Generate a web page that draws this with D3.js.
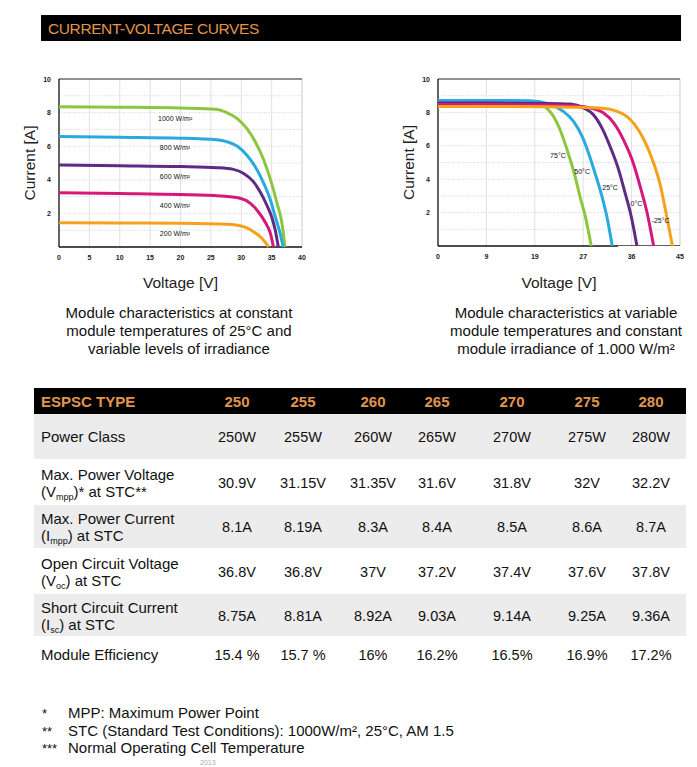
<!DOCTYPE html>
<html><head><meta charset="utf-8">
<script src="https://cdn.jsdelivr.net/npm/d3@7"></script>
<style>
body{margin:0;background:#fff;}
svg{display:block;font-family:"Liberation Sans",Arial,sans-serif;}
</style></head>
<body>
<svg id="c" width="697" height="767"></svg>
<script>
// ---------- DATA ----------
const irrLabels = ["1000 W/m²","800 W/m²","600 W/m²","400 W/m²","200 W/m²"];
const irrColors = ["#8cc63f","#29a9e0","#5e2b84","#d6187a","#f5a11c"];
const irr1000 = [[0,8.35],[10,8.32],[20,8.27],[26,8.19],[27.6,8.0],[29.3,7.66],[30.9,7.06],[32.3,6.27],[33.7,5.18],[35,3.79],[35.9,2.6],[36.7,1.41],[37.2,0]];
const irr800  = [[0,6.57],[10,6.53],[20,6.48],[26,6.38],[27.6,6.27],[29.3,6.01],[30.9,5.48],[32.3,4.78],[33.7,3.79],[34.8,2.8],[35.6,1.8],[36.4,0.81],[36.9,0]];
const irr600  = [[0,4.88],[10,4.84],[20,4.79],[26,4.72],[28.7,4.62],[30.4,4.38],[32,3.89],[33.1,3.29],[34.2,2.5],[35,1.8],[35.6,1.0],[36.1,0]];
const irr400  = [[0,3.23],[10,3.18],[20,3.12],[26.5,3.04],[29.8,2.9],[31.5,2.6],[32.8,2.1],[33.9,1.5],[34.8,0.81],[35.3,0]];
const irr200  = [[0,1.45],[10,1.43],[20,1.41],[27.6,1.35],[30.4,1.21],[32,0.91],[33.4,0.52],[34.5,0]];
const irrSeries = [irr1000, irr800, irr600, irr400, irr200];

const tempLabels = ["75°C","50°C","25°C","0°C","-25°C"];
const tempColors = ["#8cc63f","#29a9e0","#5e2b84","#d6187a","#f5a11c"];
const t75  = [[0,8.64],[10,8.63],[18.4,8.6],[20.2,8.26],[21.5,7.76],[22.7,6.96],[23.6,6.16],[24.6,5.16],[25.5,4.16],[26.4,2.96],[27.4,1.76],[28.5,0]];
const t50  = [[0,8.72],[10,8.72],[17.1,8.7],[20.8,8.5],[23.3,8.06],[25.2,7.46],[26.8,6.56],[28,5.56],[29.2,4.36],[30.5,2.96],[31.4,1.76],[32.4,0]];
const t25  = [[0,8.56],[10,8.56],[20,8.54],[24.6,8.5],[27.1,8.26],[28.9,7.86],[30.5,7.06],[32,5.96],[33.6,4.56],[34.8,3.16],[35.8,1.96],[37,0]];
const t0   = [[0,8.48],[10,8.47],[20,8.45],[26,8.38],[28.3,8.26],[30.8,7.96],[32.7,7.36],[34.5,6.36],[36.1,5.16],[37.6,3.56],[38.9,1.96],[40.1,0]];
const tm25 = [[0,8.36],[10,8.35],[20,8.34],[30,8.26],[33.3,8.06],[35.8,7.56],[38.3,6.36],[40.1,4.96],[41.4,3.56],[42.3,2.16],[43.6,0]];
const tempSeries = [t75, t50, t25, t0, tm25];

const leftXTicks = [0,5,10,15,20,25,30,35,40];
const rightXTicks = [0,9,18,27,36,45];
const rightXTickLabels = ["0","9","19","27","36","45"];
const yTicks = [2,4,6,8,10];

const tableTypes = ["250","255","260","265","270","275","280"];
const powerClass = ["250W","255W","260W","265W","270W","275W","280W"];
const vmpp = ["30.9V","31.15V","31.35V","31.6V","31.8V","32V","32.2V"];
const impp = ["8.1A","8.19A","8.3A","8.4A","8.5A","8.6A","8.7A"];
const voc = ["36.8V","36.8V","37V","37.2V","37.4V","37.6V","37.8V"];
const isc = ["8.75A","8.81A","8.92A","9.03A","9.14A","9.25A","9.36A"];
const eff = ["15.4 %","15.7 %","16%","16.2%","16.5%","16.9%","17.2%"];

const footMarks = ["*","**","***"];
const footTexts = ["MPP: Maximum Power Point","STC (Standard Test Conditions): 1000W/m², 25°C, AM 1.5","Normal Operating Cell Temperature"];

// ---------- DRAW ----------
const svg = d3.select("#c");
const orange = "#e0954f";

// title bar
svg.append("rect").attr("x",41).attr("y",15).attr("width",640).attr("height",26).attr("fill","#000");
svg.append("text").attr("x",48).attr("y",33.5).attr("fill",orange).attr("font-size",15.5)
  .attr("letter-spacing",-0.4).text("CURRENT-VOLTAGE CURVES");

function chart(opts){
  const {x0,x1,y0,y1,xDomain,series,colors,xTicks,xTickLabels,vGrid,labels,labelPos,labelAnchor,bottomSplit} = opts;
  const x = d3.scaleLinear().domain(xDomain).range([x0,x1]);
  const y = d3.scaleLinear().domain([0,10]).range([y0,y1]);
  const g = svg.append("g");
  g.selectAll("line.h").data(d3.range(1,10)).join("line")
    .attr("x1",x0).attr("x2",x1).attr("y1",d=>y(d)).attr("y2",d=>y(d))
    .attr("stroke","#c8c8c8").attr("stroke-width",0.8).attr("stroke-dasharray","1,1.5");
  g.selectAll("line.v").data(vGrid).join("line")
    .attr("x1",d=>x(d)).attr("x2",d=>x(d)).attr("y1",y0).attr("y2",y1)
    .attr("stroke","#d9d9d9").attr("stroke-width",0.8);
  g.append("line").attr("x1",x1).attr("x2",x1).attr("y1",y0).attr("y2",y1).attr("stroke","#bbb").attr("stroke-width",0.8);
  g.append("line").attr("x1",x0).attr("x2",x1).attr("y1",y1).attr("y2",y1).attr("stroke","#222").attr("stroke-width",1);
  g.append("line").attr("x1",x0).attr("x2",x0).attr("y1",y0).attr("y2",y1).attr("stroke","#111").attr("stroke-width",1.3);
  if(bottomSplit!=null){
    g.append("line").attr("x1",x0).attr("x2",x(bottomSplit)).attr("y1",y0).attr("y2",y0).attr("stroke","#111").attr("stroke-width",1.6);
    g.append("line").attr("x1",x(bottomSplit)).attr("x2",x1).attr("y1",y0-0.5).attr("y2",y0-0.5).attr("stroke","#333").attr("stroke-width",0.8);
  } else {
    g.append("line").attr("x1",x0).attr("x2",x1).attr("y1",y0).attr("y2",y0).attr("stroke","#111").attr("stroke-width",1.6);
  }
  g.selectAll("text.yt").data(yTicks).join("text")
    .attr("x",x0-8).attr("y",d=>y(d)+2.5).attr("text-anchor","end")
    .attr("font-size",7).attr("font-weight","bold").attr("fill","#222").text(d=>d);
  g.selectAll("text.xt").data(xTicks).join("text")
    .attr("x",d=>x(d)).attr("y",y0+13).attr("text-anchor","middle")
    .attr("font-size",7).attr("font-weight","bold").attr("fill","#222").text((d,i)=>xTickLabels[i]);
  const line = d3.line().x(d=>x(d[0])).y(d=>y(d[1])).curve(d3.curveMonotoneX);
  g.selectAll("path.s").data(series).join("path")
    .attr("d",line).attr("fill","none").attr("stroke",(d,i)=>colors[i]).attr("stroke-width",3);
  g.selectAll("text.l").data(labels).join("text")
    .attr("x",(d,i)=>x(labelPos[i][0])).attr("y",(d,i)=>y(labelPos[i][1]))
    .attr("text-anchor",labelAnchor).attr("font-size",7).attr("fill","#111").text(d=>d);
  svg.append("text").attr("transform",`translate(${x0-24},${(y0+y1)/2}) rotate(-90)`)
    .attr("text-anchor","middle").attr("font-size",15.5).attr("fill","#222").text("Current [A]");
  svg.append("text").attr("x",(x0+x1)/2).attr("y",288).attr("text-anchor","middle")
    .attr("font-size",15.5).attr("fill","#222").text("Voltage [V]");
}

chart({x0:59,x1:302,y0:247,y1:79,xDomain:[0,40],series:irrSeries,colors:irrColors,
  xTicks:leftXTicks,xTickLabels:leftXTicks.map(String),vGrid:[5,10,15,20,25,30,35],
  labels:irrLabels,labelPos:[[16.3,7.5],[16.6,5.8],[16.6,4.05],[16.6,2.3],[16.6,0.65]],labelAnchor:"start"});
chart({x0:438,x1:680,y0:246,y1:79,xDomain:[0,45],series:tempSeries,colors:tempColors,
  xTicks:rightXTicks,xTickLabels:rightXTickLabels,vGrid:[9,18,27,36],
  labels:tempLabels,labelPos:[[22.3,5.28],[26.8,4.32],[32,3.36],[36.9,2.4],[41.4,1.38]],labelAnchor:"middle",bottomSplit:33.5});

// captions
const capL = ["Module characteristics at constant","module temperatures of 25°C and","variable levels of irradiance"];
const capR = ["Module characteristics at variable","module temperatures and constant","module irradiance of 1.000 W/m²"];
svg.selectAll("text.cl").data(capL).join("text").attr("x",179).attr("y",(d,i)=>318+i*18)
  .attr("text-anchor","middle").attr("font-size",15).attr("fill","#111").text(d=>d);
svg.selectAll("text.cr").data(capR).join("text").attr("x",566).attr("y",(d,i)=>318+i*18)
  .attr("text-anchor","middle").attr("font-size",15).attr("fill","#111").text(d=>d);

// table
const colX = [237,303,373,437,512,587,651];
const tx0 = 34, tx1 = 686;
svg.append("rect").attr("x",tx0).attr("y",388).attr("width",tx1-tx0).attr("height",26).attr("fill","#000");
svg.append("text").attr("x",41).attr("y",406.5).attr("fill",orange).attr("font-size",15).attr("font-weight","bold")
  .text("ESPSC TYPE");
svg.selectAll("text.th").data(tableTypes).join("text").attr("x",(d,i)=>colX[i]).attr("y",406.5)
  .attr("text-anchor","middle").attr("fill",orange).attr("font-size",15).attr("font-weight","bold").text(d=>d);

const rows = [
  {top:414,h:46,gray:true,label:[["Power Class"]],vals:powerClass},
  {top:460,h:45,gray:false,label:[["Max. Power Voltage"],["(V","mpp",")* at STC**"]],vals:vmpp},
  {top:505,h:44,gray:true,label:[["Max. Power Current"],["(I","mpp",") at STC"]],vals:impp},
  {top:550,h:43,gray:false,label:[["Open Circuit Voltage"],["(V","oc",") at STC"]],vals:voc},
  {top:594,h:43,gray:true,label:[["Short Circuit Current"],["(I","sc",") at STC"]],vals:isc},
  {top:637,h:36,gray:false,label:[["Module Efficiency"]],vals:eff}
];
rows.forEach(r=>{
  if(r.gray) svg.append("rect").attr("x",tx0).attr("y",r.top).attr("width",tx1-tx0).attr("height",r.h-1).attr("fill","#ececec");
  const cy = r.top + r.h/2;
  svg.selectAll(null).data(r.vals).join("text").attr("x",(d,i)=>colX[i]).attr("y",cy+5)
    .attr("text-anchor","middle").attr("font-size",14.5).attr("fill","#111").text(d=>d);
  if(r.label.length===1){
    svg.append("text").attr("x",41).attr("y",cy+5).attr("font-size",15).attr("fill","#111").text(r.label[0][0]);
  } else {
    svg.append("text").attr("x",41).attr("y",cy-3).attr("font-size",15).attr("fill","#111").text(r.label[0][0]);
    const t = svg.append("text").attr("x",41).attr("y",cy+14).attr("font-size",15).attr("fill","#111");
    t.append("tspan").text(r.label[1][0]);
    t.append("tspan").attr("font-size",9).attr("dy",3).text(r.label[1][1]);
    t.append("tspan").attr("dy",-3).text(r.label[1][2]);
  }
});

// footnotes
svg.selectAll("text.fm").data(footMarks).join("text").attr("x",42).attr("y",(d,i)=>718+i*17.5)
  .attr("font-size",13).attr("fill","#111").text(d=>d);
svg.selectAll("text.ft").data(footTexts).join("text").attr("x",68).attr("y",(d,i)=>718+i*17.5)
  .attr("font-size",15).attr("fill","#111").text(d=>d);
svg.append("text").attr("x",200).attr("y",765).attr("font-size",7).attr("fill","#aaa").text("2013");
</script>
</body></html>
